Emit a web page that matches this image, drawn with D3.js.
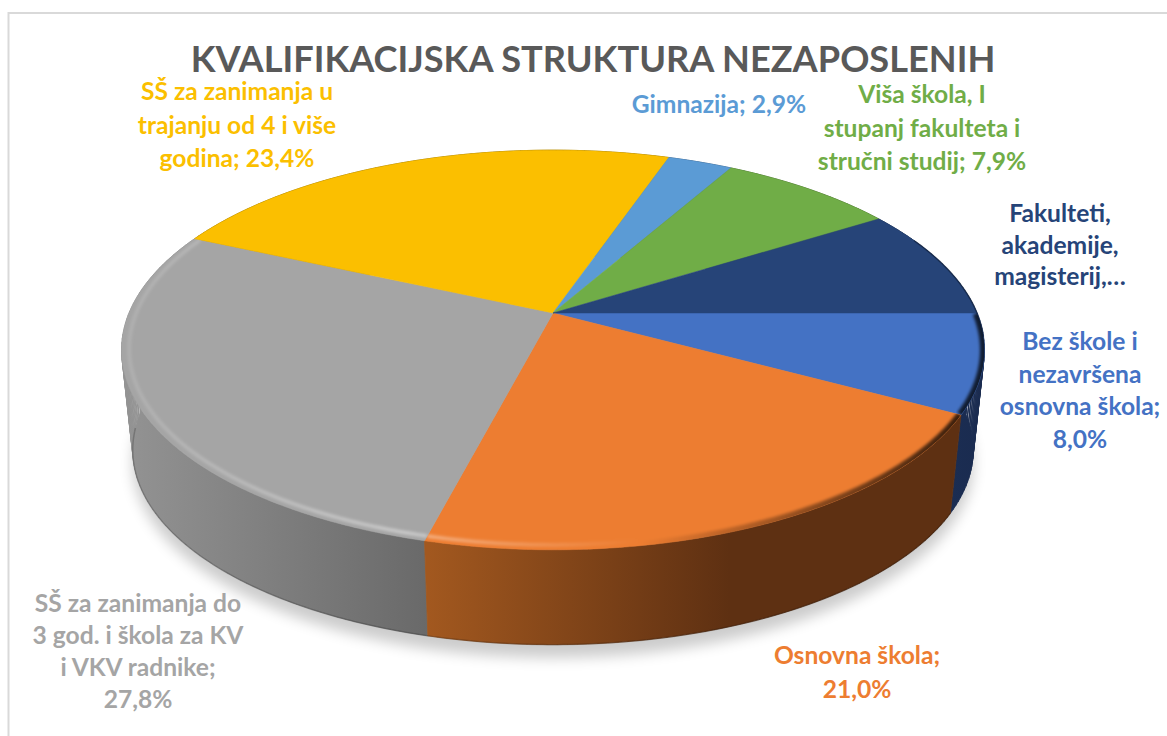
<!DOCTYPE html>
<html><head><meta charset="utf-8">
<style>html,body{margin:0;padding:0;background:#fff}svg{display:block}text{font-family:Lato,"Open Sans",sans-serif;font-weight:700;text-anchor:middle}</style>
<script src="https://cdn.jsdelivr.net/npm/d3@7/dist/d3.min.js"></script>
</head><body><svg id="c" width="1167" height="736"></svg>
<script>
const chartTitle = "KVALIFIKACIJSKA STRUKTURA NEZAPOSLENIH";
const categories = ["Bez škole i nezavršena osnovna škola","Osnovna škola","SŠ za zanimanja do 3 god. i škola za KV i VKV radnike","SŠ za zanimanja u trajanju od 4 i više godina","Gimnazija","Viša škola, I stupanj fakulteta i stručni studij","Fakulteti, akademije, magisterij,…"];
const values = [8.0,21.0,27.8,23.4,2.9,7.9,9.0];
const labelLines = [
 ["Bez škole i","nezavršena","osnovna škola;","8,0%"],
 ["Osnovna škola;","21,0%"],
 ["SŠ za zanimanja do","3 god. i škola za KV","i VKV radnike;","27,8%"],
 ["SŠ za zanimanja u","trajanju od 4 i više","godina; 23,4%"],
 ["Gimnazija; 2,9%"],
 ["Viša škola, I","stupanj fakulteta i","stručni studij; 7,9%"],
 ["Fakulteti,","akademije,","magisterij,…"]];
const colors = ["#4472C4","#ED7D31","#A5A5A5","#FBBF00","#5B9BD5","#70AD47","#264478"];
const wallStops = [["#1c3057","#1a2b4f"],["#a2581f","#5e3012"],["#939393","#696969"],["#8a6a00","#8a6a00"],["#32567a","#32567a"],["#3e6027","#3e6027"],["#152642","#152642"]];

// layout
const labelPos = [[1080,350,32.7],[857,664,34],[138,612,32],[237,100,33.5],[719,113,0],[922,103,33.5],[1060,222,31.5]];
const top_ = {cx:553,cy:313,A:424,B:193,k:0.185};
const bot_ = {cx:553,cy:414,A:413,B:188,k:0.185};
function project(p,theta,r=1){
  const u=r*Math.cos(theta), v=r*Math.sin(theta), d=1-p.k*v;
  return [p.cx+p.A*u/d, p.cy+p.B*v/d];
}
const svg=d3.select("#c");
const defs=svg.append("defs");
const blur=(id,s)=>defs.append("filter").attr("id",id).attr("x","-20%").attr("y","-20%").attr("width","140%").attr("height","140%").append("feGaussianBlur").attr("stdDeviation",s);
blur("b1",1.6); blur("b2",7);

svg.append("rect").attr("x",8.5).attr("y",13).attr("width",1170).attr("height",740).attr("fill","#fff").attr("stroke","#d9d9d9").attr("stroke-width",2);

// angles: pie measured clockwise from 3 o'clock
const arcs=d3.pie().sort(null).startAngle(0).endAngle(2*Math.PI).value(d=>d)(values);
const line=d3.line();
const arcPts=(p,a0,a1,r=1,step=0.01)=>{
  const n=Math.max(2,Math.ceil((a1-a0)/step));
  return d3.range(n+1).map(i=>project(p,a0+(a1-a0)*i/n,r));
};
const full=arcPts(bot_,0,2*Math.PI);

// soft shadow under the disk
svg.append("path").attr("d",line(full)+"Z").attr("transform","translate(0,13)").attr("fill","#000").attr("opacity",.2).attr("filter","url(#b2)");

// walls, drawn as thin quads so that the ribbon can fold at the silhouette
arcs.forEach((a,i)=>{
  const g=defs.append("linearGradient").attr("id","w"+i).attr("gradientUnits","userSpaceOnUse")
    .attr("x1",i==1?428:i==2?125:900).attr("x2",i==1?730:i==2?430:985).attr("y1",0).attr("y2",0);
  g.append("stop").attr("offset",0).attr("stop-color",wallStops[i][0]);
  g.append("stop").attr("offset",1).attr("stop-color",wallStops[i][1]);
});
[3,4,5,6,0,2,1].forEach(i=>{
  const a=arcs[i];
  const t=arcPts(top_,a.startAngle,a.endAngle,1,0.02), b=arcPts(bot_,a.startAngle,a.endAngle,1,0.02);
  const d=t.slice(1).map((q,j)=>line([t[j],q,b[j+1],b[j]])+"Z").join("");
  svg.append("path").attr("d",d).attr("fill",`url(#w${i})`).attr("stroke",`url(#w${i})`).attr("stroke-width",.8);
});
// dark lip at wall bottom
svg.append("path").attr("d",line(arcPts(bot_,arcs[1].startAngle,arcs[2].endAngle-.5))).attr("fill","none").attr("stroke","#000").attr("stroke-opacity",.2).attr("stroke-width",1.5);

// top faces
arcs.forEach((a,i)=>{
  const pts=[[top_.cx,top_.cy]].concat(arcPts(top_,a.startAngle,a.endAngle));
  svg.append("path").attr("d",line(pts)+"Z").attr("fill",colors[i]).attr("stroke",colors[i]).attr("stroke-width",.5);
  defs.append("clipPath").attr("id","cl"+i).append("path").attr("d",line(pts)+"Z");
});

// bevel: dark on the right, light on the left
const dk=defs.append("linearGradient").attr("id","bevelDark").attr("gradientUnits","userSpaceOnUse").attr("x1",640).attr("x2",960).attr("y1",0).attr("y2",0);
dk.append("stop").attr("offset",0).attr("stop-color","#000").attr("stop-opacity",0);
dk.append("stop").attr("offset",1).attr("stop-color","#000").attr("stop-opacity",.75);
const lt=defs.append("linearGradient").attr("id","bevelLight").attr("gradientUnits","userSpaceOnUse").attr("x1",120).attr("x2",640).attr("y1",0).attr("y2",0);
lt.append("stop").attr("offset",0).attr("stop-color","#fff").attr("stop-opacity",.12);
lt.append("stop").attr("offset",.55).attr("stop-color","#fff").attr("stop-opacity",.42);
lt.append("stop").attr("offset",1).attr("stop-color","#fff").attr("stop-opacity",0);
[0,1,2].forEach(i=>{
  const a=arcs[i];
  const gr=svg.append("g").attr("clip-path",`url(#cl${i})`);
  gr.append("path").attr("d",line(arcPts(top_,a.startAngle,a.endAngle,1))).attr("fill","none").attr("stroke","url(#bevelDark)").attr("stroke-width",9).attr("filter","url(#b1)");
  gr.append("path").attr("d",line(arcPts(top_,a.startAngle,a.endAngle,0.983))).attr("fill","none").attr("stroke","url(#bevelLight)").attr("stroke-width",3.5).attr("filter","url(#b1)");
});
// faint dark edge along the right rear rim
svg.append("path").attr("d",line(arcPts(top_,arcs[5].endAngle+.15,2*Math.PI+.12))).attr("fill","none").attr("stroke","#0b1a33").attr("stroke-opacity",.55).attr("stroke-width",1.5);

// title
svg.append("text").attr("x",593).attr("y",72).attr("font-size",36.2).attr("fill","#595959").text(chartTitle);

// labels
labelLines.forEach((ls,i)=>{
  const [x,y,dy]=labelPos[i];
  const t=svg.append("text").attr("font-size",24.6).attr("fill",colors[i]).attr("aria-label",categories[i]);
  ls.forEach((s,j)=>t.append("tspan").attr("x",x).attr("y",y+j*dy).text(s));
});
</script></body></html>
